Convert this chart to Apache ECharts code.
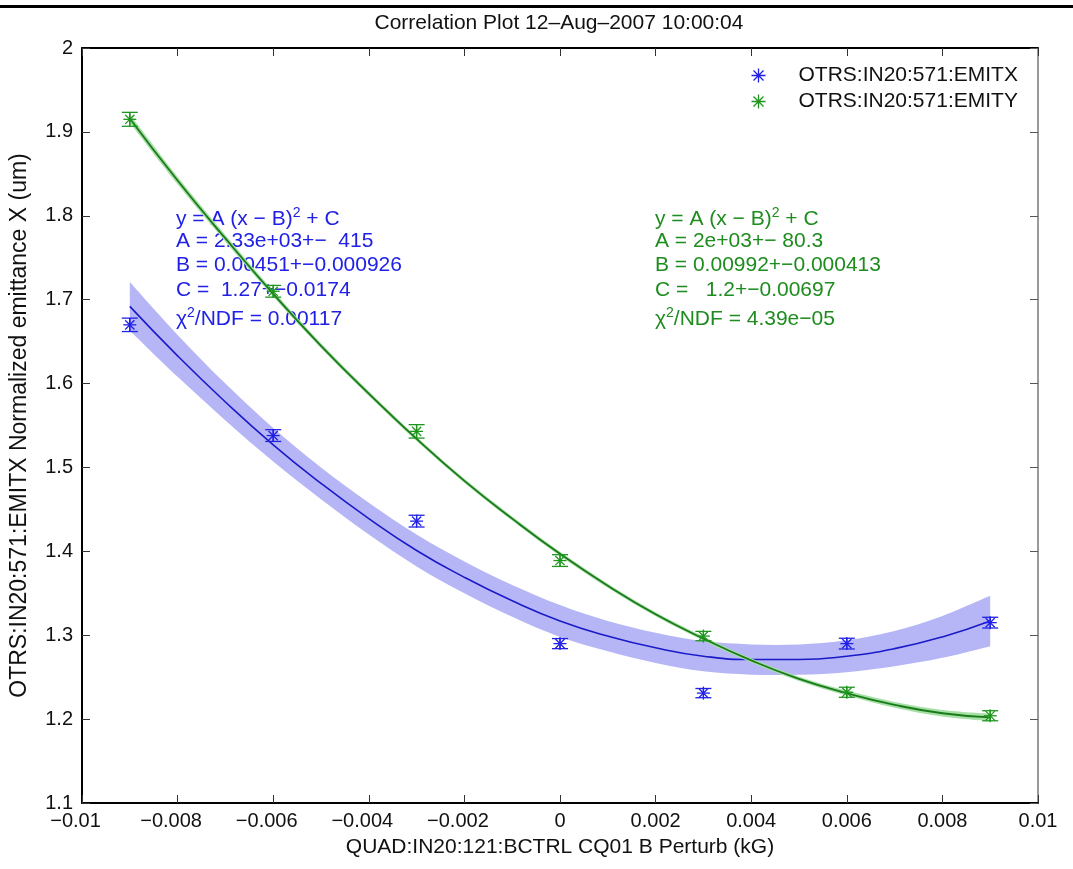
<!DOCTYPE html>
<html>
  <head>
    <title></title>
    <meta charset="UTF-8" />
    <script src="https://cdn.jsdelivr.net/npm/echarts@6/dist/echarts.min.js"></script>
  </head>
  <body style="margin:0">
    <div id="main"></div>
    <script>
      const width = 1073;
      const height = 869;
      const main = document.getElementById('main');
      main.style.width = `${width}px`;
      main.style.height = `${height}px`;

      // measured points
      const quadX = [-0.009, -0.006, -0.003, 0, 0.003, 0.006, 0.009];
      const emitX = [1.670, 1.538, 1.436, 1.290, 1.231, 1.290, 1.315];
      const emitXErr = [0.008, 0.007, 0.007, 0.006, 0.0055, 0.0064, 0.0064];
      const emitY = [1.915, 1.710, 1.543, 1.389, 1.299, 1.232, 1.204];
      const emitYErr = [0.0083, 0.007, 0.008, 0.007, 0.0056, 0.006, 0.006];

      // fitted parabolas + confidence band half width
      const fitQuad = [-0.009, -0.008, -0.007, -0.006, -0.005, -0.004, -0.003, -0.002, -0.001, 0,
                       0.001, 0.002, 0.003, 0.004, 0.005, 0.006, 0.007, 0.008, 0.009];
      const fitEmitX = [1.692, 1.633, 1.578, 1.527, 1.481, 1.439, 1.401, 1.369, 1.341, 1.317,
                        1.299, 1.285, 1.275, 1.271, 1.271, 1.275, 1.284, 1.298, 1.317];
      const bandEmitX = [0.029, 0.025, 0.022, 0.020, 0.019, 0.019, 0.019, 0.019, 0.019, 0.019,
                         0.018, 0.018, 0.018, 0.018, 0.018, 0.019, 0.021, 0.025, 0.030];
      const fitEmitY = [1.916, 1.842, 1.773, 1.707, 1.645, 1.588, 1.534, 1.484, 1.439, 1.397,
                        1.359, 1.325, 1.296, 1.270, 1.248, 1.231, 1.217, 1.207, 1.202];
      const bandEmitY = [0.005, 0.0045, 0.004, 0.0035, 0.003, 0.0028, 0.0026, 0.0025, 0.0025, 0.0025,
                         0.0025, 0.0025, 0.0025, 0.0025, 0.0026, 0.003, 0.0035, 0.004, 0.0045];

      const fitTextX = ['y = A (x − B)|2| + C', 'A = 2.33e+03+−  415', 'B = 0.00451+−0.000926',
                        'C =  1.27+−0.0174', 'χ|2|/NDF = 0.00117'];
      const fitTextY = ['y = A (x − B)|2| + C', 'A = 2e+03+− 80.3', 'B = 0.00992+−0.000413',
                        'C =   1.2+−0.00697', 'χ|2|/NDF = 4.39e−05'];

      const nameX = 'OTRS:IN20:571:EMITX';
      const nameY = 'OTRS:IN20:571:EMITY';
      const font = 'Liberation Sans';
      const BLUE = '#2020e6', BLUE_LINE = '#1a1ac8', BLUE_BAND = '#b6b6f6';
      const GREEN = '#1e961e', GREEN_LINE = '#1a7a1a', GREEN_BAND = '#a6e0a6', GREEN_TEXT = '#1e8c1e';

      // catmull-rom through pixel points, as svg path
      function curvePath(p, first) {
        let d = (first ? 'M' : 'L') + p[0][0] + ',' + p[0][1];
        for (let i = 0; i < p.length - 1; i++) {
          const a = p[Math.max(i - 1, 0)], b = p[i], c = p[i + 1], e = p[Math.min(i + 2, p.length - 1)];
          d += 'C' + (b[0] + (c[0] - a[0]) / 6) + ',' + (b[1] + (c[1] - a[1]) / 6) + ','
            + (c[0] - (e[0] - b[0]) / 6) + ',' + (c[1] - (e[1] - b[1]) / 6) + ',' + c[0] + ',' + c[1];
        }
        return d;
      }

      function bandRenderer(fit, hw, color) {
        return function (params, api) {
          if (params.dataIndex !== 0) return;
          const upper = fitQuad.map((x, i) => api.coord([x, fit[i] + hw[i]]));
          const lower = fitQuad.map((x, i) => api.coord([x, fit[i] - hw[i]])).reverse();
          return {
            type: 'path',
            shape: { pathData: curvePath(upper, true) + curvePath(lower, false) + 'Z' },
            style: { fill: color },
            silent: true
          };
        };
      }

      function pointRenderer(color) {
        return function (params, api) {
          const x = api.value(0), y = api.value(1), e = api.value(2);
          const c = api.coord([x, y]);
          const t = api.coord([x, y + e])[1], b = api.coord([x, y - e])[1];
          const r = 6.5, q = 4.6, w = 8;
          const seg = (x1, y1, x2, y2) => ({
            type: 'line', shape: { x1, y1, x2, y2 }, style: { stroke: color, lineWidth: 1.3 }
          });
          return {
            type: 'group',
            children: [
              seg(c[0], t, c[0], b), seg(c[0] - w, t, c[0] + w, t), seg(c[0] - w, b, c[0] + w, b),
              seg(c[0] - r, c[1], c[0] + r, c[1]), seg(c[0], c[1] - r, c[0], c[1] + r),
              seg(c[0] - q, c[1] - q, c[0] + q, c[1] + q), seg(c[0] - q, c[1] + q, c[0] + q, c[1] - q)
            ]
          };
        };
      }

      function fitText(lines, left, color) {
        const tops = [206, 231, 255, 280, 306];
        return lines.map((s, i) => {
          const parts = s.split('|');
          const text = parts.length === 3
            ? `{m|${parts[0]}}{s|${parts[1]}}{m|${parts[2]}}` : `{m|${s}}`;
          return {
            type: 'text', left, top: tops[i], silent: true,
            style: {
              text, fill: color,
              rich: {
                m: { fontSize: 21, fontFamily: font, lineHeight: 26, fill: color },
                s: { fontSize: 14, fontFamily: font, lineHeight: 14, verticalAlign: 'top', fill: color }
              }
            }
          };
        });
      }

      const asterisk = 'path://M0,-7L0,7M-7,0L7,0M-5,-5L5,5M-5,5L5,-5';
      const tickFmt = v => {
        const s = String(+v.toFixed(4));
        return v < 0 ? `{n|${s.replace('-', '−')}}` : s;
      };

      const myChart = echarts.init(main);
      const option = {
        animation: false,
        textStyle: { fontFamily: font },
        title: {
          text: 'Correlation Plot 12–Aug–2007 10:00:04',
          left: 559, top: 13, textAlign: 'center', padding: 0,
          textStyle: { fontSize: 21, fontWeight: 'normal', color: '#111', fontFamily: font }
        },
        legend: {
          orient: 'vertical', left: 749, top: 65, padding: 0,
          itemWidth: 70, itemHeight: 14, itemGap: 5,
          textStyle: { fontSize: 21, color: '#111', fontFamily: font },
          data: [
            { name: nameX, icon: asterisk, itemStyle: { color: 'none', borderColor: BLUE, borderWidth: 1.3 } },
            { name: nameY, icon: asterisk, itemStyle: { color: 'none', borderColor: GREEN, borderWidth: 1.3 } }
          ]
        },
        grid: { left: 80, right: 35, top: 48, bottom: 66 },
        xAxis: [
          {
            type: 'value', min: -0.01, max: 0.01, interval: 0.002,
            name: 'QUAD:IN20:121:BCTRL CQ01 B Perturb (kG)',
            nameLocation: 'middle', nameGap: 34,
            nameTextStyle: { fontSize: 21, color: '#111', fontFamily: font },
            axisLine: { onZero: false, lineStyle: { color: '#000', width: 2 } },
            axisTick: { inside: true, length: 8, lineStyle: { color: '#333' } },
            axisLabel: {
              fontSize: 20, color: '#111', margin: 8, formatter: tickFmt,
              rich: { n: { fontSize: 20, color: '#111', fontFamily: font, padding: [0, 13, 0, 0] } }
            },
            splitLine: { show: false }
          },
          {
            type: 'value', position: 'top', min: -0.01, max: 0.01, interval: 0.002,
            axisLine: { onZero: false, lineStyle: { color: '#000', width: 2 } },
            axisTick: { inside: true, length: 8, lineStyle: { color: '#333' } },
            axisLabel: { show: false },
            splitLine: { show: false }
          }
        ],
        yAxis: [
          {
            type: 'value', min: 1.1, max: 2, interval: 0.1,
            name: 'OTRS:IN20:571:EMITX Normalized emittance X (um)',
            nameLocation: 'middle', nameGap: 51, nameRotate: 90,
            nameTextStyle: { fontSize: 23, color: '#111', fontFamily: font },
            axisLine: { onZero: false, lineStyle: { color: '#000', width: 2 } },
            axisTick: { inside: true, length: 8, lineStyle: { color: '#333' } },
            axisLabel: { fontSize: 20, color: '#111', margin: 9 },
            splitLine: { show: false }
          },
          {
            type: 'value', position: 'right', min: 1.1, max: 2, interval: 0.1,
            axisLine: { onZero: false, lineStyle: { color: '#777', width: 1.5 } },
            axisTick: { inside: true, length: 8, lineStyle: { color: '#555' } },
            axisLabel: { show: false },
            splitLine: { show: false }
          }
        ],
        graphic: [
          { type: 'rect', left: 0, top: 5, shape: { width: 1073, height: 3 }, style: { fill: '#000' }, silent: true },
          ...fitText(fitTextX, 176, BLUE),
          ...fitText(fitTextY, 655, GREEN_TEXT)
        ],
        series: [
          {
            name: 'bandX', type: 'custom', clip: true, z: 1,
            renderItem: bandRenderer(fitEmitX, bandEmitX, BLUE_BAND),
            data: fitQuad.map((x, i) => [x, fitEmitX[i]])
          },
          {
            name: 'fitX', type: 'line', smooth: true, showSymbol: false, z: 2,
            lineStyle: { color: BLUE_LINE, width: 1.6 },
            data: fitQuad.map((x, i) => [x, fitEmitX[i]])
          },
          {
            name: 'bandY', type: 'custom', clip: true, z: 3,
            renderItem: bandRenderer(fitEmitY, bandEmitY, GREEN_BAND),
            data: fitQuad.map((x, i) => [x, fitEmitY[i]])
          },
          {
            name: 'fitY', type: 'line', smooth: true, showSymbol: false, z: 4,
            lineStyle: { color: GREEN_LINE, width: 1.8 },
            data: fitQuad.map((x, i) => [x, fitEmitY[i]])
          },
          {
            name: nameX, type: 'custom', z: 5, itemStyle: { color: BLUE },
            renderItem: pointRenderer(BLUE),
            data: quadX.map((x, i) => [x, emitX[i], emitXErr[i]])
          },
          {
            name: nameY, type: 'custom', z: 6, itemStyle: { color: GREEN },
            renderItem: pointRenderer(GREEN),
            data: quadX.map((x, i) => [x, emitY[i], emitYErr[i]])
          }
        ]
      };
      myChart.setOption(option);
    </script>
  </body>
</html>
